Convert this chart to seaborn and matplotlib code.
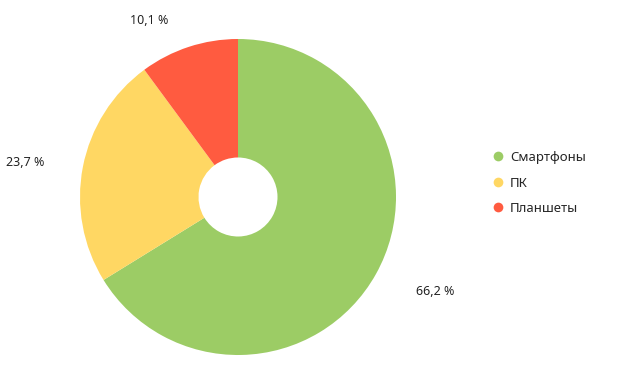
import matplotlib
matplotlib.use("Agg")
import matplotlib.pyplot as plt
from matplotlib.lines import Line2D
import seaborn as sns

# data
categories = ['Смартфоны', 'ПК', 'Планшеты']
shares = [66.2, 23.7, 10.1]
colors = ['#9ccc65', '#ffd763', '#ff5b40']
# label anchor points (data coords, pie radius = 1)
label_xy = [(1.25, -0.60), (-1.35, 0.22), (-0.56, 1.12)]

sns.set_theme(style="white")
plt.rcParams['font.family'] = ['Noto Sans', 'DejaVu Sans']

W, H = 633, 366
fig = plt.figure(figsize=(W / 100, H / 100), dpi=100)
cx, cy, r = 238, 197, 158
ax = fig.add_axes([(cx - r) / W, (H - cy - r) / H, 2 * r / W, 2 * r / H])

ax.pie(shares, colors=colors, startangle=90, counterclock=False,
       wedgeprops=dict(width=0.75, linewidth=0))
ax.set_xlim(-1, 1)
ax.set_ylim(-1, 1)
ax.set_aspect('equal')
ax.axis('off')

for val, (x, y) in zip(shares, label_xy):
    ax.text(x, y, f"{val:.1f} %".replace('.', ','), ha='center', va='center',
            fontsize=9, color='#222222', clip_on=False)

handles = [Line2D([0], [0], marker='o', linestyle='', markersize=7,
                  markerfacecolor=c, markeredgewidth=0) for c in colors]
fig.legend(handles, categories, loc='center left',
           bbox_to_anchor=(493 / W, (H - 183) / H), frameon=False,
           fontsize=9.5, handlelength=0.8, handletextpad=0.5,
           labelspacing=0.95, borderpad=0, borderaxespad=0)

fig.savefig('out.png', dpi=100)
